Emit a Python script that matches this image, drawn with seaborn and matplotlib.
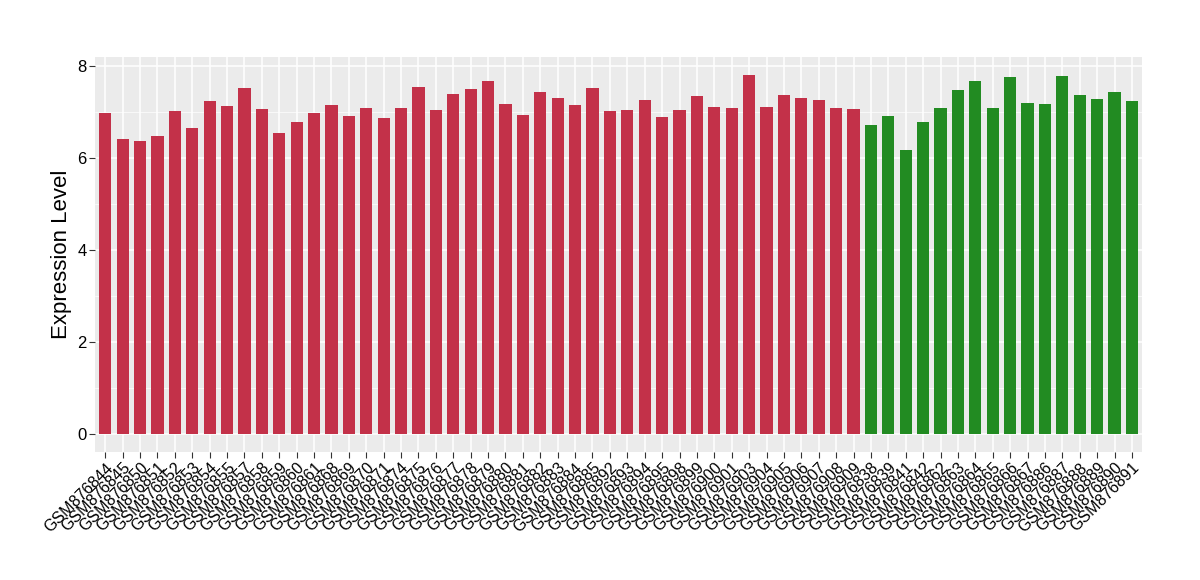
import matplotlib
matplotlib.use("Agg")
import matplotlib.pyplot as plt
import seaborn as sns
import pandas as pd
from matplotlib.ticker import MultipleLocator

samples = ["GSM876844", "GSM876845", "GSM876850", "GSM876851", "GSM876852", "GSM876853",
           "GSM876854", "GSM876855", "GSM876857", "GSM876858", "GSM876859", "GSM876860",
           "GSM876861", "GSM876868", "GSM876869", "GSM876870", "GSM876871", "GSM876874",
           "GSM876875", "GSM876876", "GSM876877", "GSM876878", "GSM876879", "GSM876880",
           "GSM876881", "GSM876882", "GSM876883", "GSM876884", "GSM876885", "GSM876892",
           "GSM876893", "GSM876894", "GSM876895", "GSM876898", "GSM876899", "GSM876900",
           "GSM876901", "GSM876903", "GSM876904", "GSM876905", "GSM876906", "GSM876907",
           "GSM876908", "GSM876909",
           "GSM876838", "GSM876839", "GSM876841", "GSM876842", "GSM876862", "GSM876863",
           "GSM876864", "GSM876865", "GSM876866", "GSM876867", "GSM876886", "GSM876887",
           "GSM876888", "GSM876889", "GSM876890", "GSM876891"]

values = [6.96, 6.41, 6.37, 6.48, 7.02, 6.65, 7.24, 7.13, 7.52, 7.06, 6.54, 6.78,
          6.96, 7.15, 6.91, 7.08, 6.87, 7.08, 7.54, 7.04, 7.39, 7.50, 7.67, 7.17,
          6.93, 7.43, 7.30, 7.15, 7.52, 7.02, 7.04, 7.26, 6.89, 7.04, 7.33, 7.11,
          7.08, 7.80, 7.11, 7.37, 7.30, 7.26, 7.08, 7.06,
          6.72, 6.91, 6.17, 6.78, 7.08, 7.46, 7.67, 7.08, 7.76, 7.19, 7.17, 7.78,
          7.37, 7.28, 7.43, 7.22]

groups = ["A"] * 44 + ["B"] * 16
colors = {"A": "#C33149", "B": "#228B22"}

df = pd.DataFrame({"sample": samples, "value": values, "group": groups})

sns.set_theme(style="darkgrid")
plt.rcParams["font.family"] = ["Liberation Sans", "DejaVu Sans"]

fig = plt.figure(figsize=(12, 5.8), dpi=100)
ax = fig.add_axes([0.079, 0.221, 0.873, 0.681])
ax.set_facecolor("#EBEBEB")

sns.barplot(data=df, x="sample", y="value", hue="group", palette=colors,
            dodge=False, legend=False, width=0.7, saturation=1, linewidth=0,
            ax=ax, zorder=3)

ax.set_xlim(-0.6, len(samples) - 0.4)
ax.set_ylim(-0.39, 8.19)
ax.yaxis.set_major_locator(MultipleLocator(2))
ax.yaxis.set_minor_locator(MultipleLocator(1))
ax.grid(which="major", color="white", linewidth=1.1, zorder=0)
ax.grid(which="minor", axis="y", color="white", linewidth=0.5, zorder=0)
ax.set_axisbelow(True)
for s in ax.spines.values():
    s.set_visible(False)

ax.set_xlabel("")
ax.set_ylabel("Expression Level", fontsize=16, color="black", labelpad=4)
ax.tick_params(axis="both", which="major", length=4, width=0.8, color="#333333",
               labelsize=12, labelcolor="black", bottom=True, left=True, pad=2)
ax.tick_params(axis="y", which="minor", length=0)
ax.set_xticks(range(len(samples)))
ax.set_xticklabels(samples, rotation=45, ha="right", rotation_mode="anchor", fontsize=11.5)

fig.savefig("out.png", dpi=100)
